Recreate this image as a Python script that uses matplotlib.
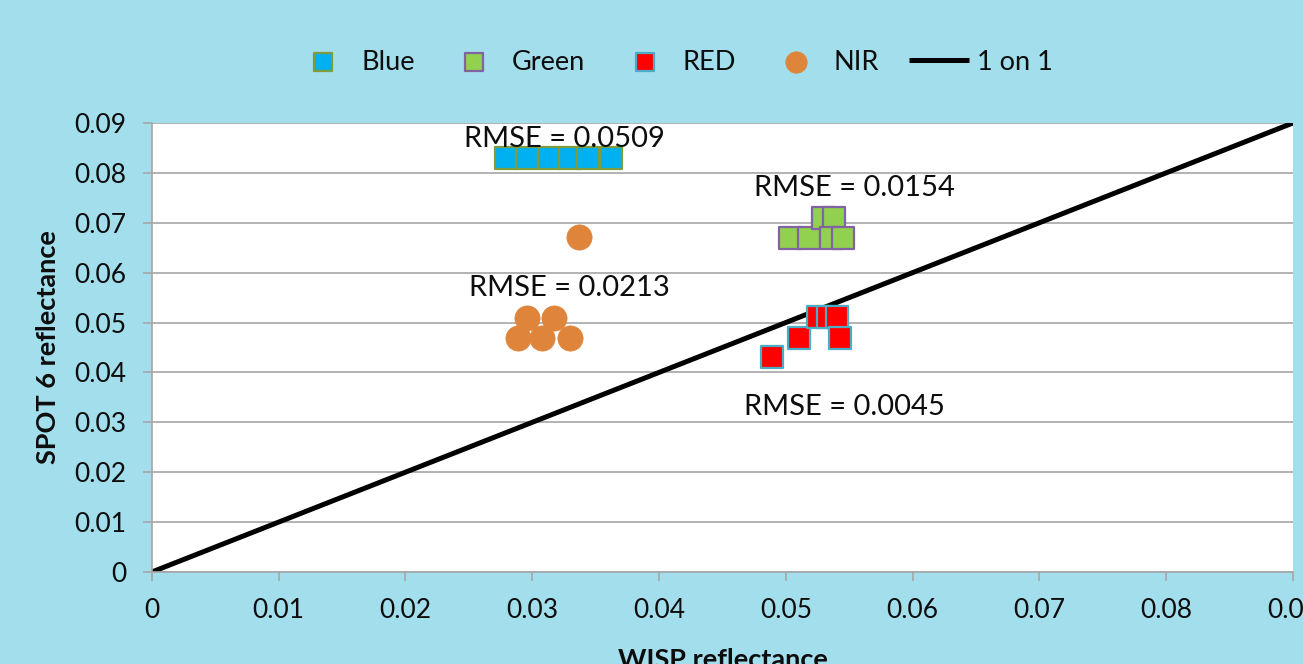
import numpy as np
import matplotlib.pyplot as plt

plt.rcParams['font.family'] = ['Lato', 'DejaVu Sans']

# data
blue_x = [0.0279, 0.0296, 0.0313, 0.0330, 0.0344, 0.0362]
blue_y = [0.083, 0.083, 0.083, 0.083, 0.083, 0.083]

green_x = [0.0503, 0.0518, 0.0529, 0.0538, 0.0536, 0.0545]
green_y = [0.067, 0.067, 0.071, 0.071, 0.067, 0.067]

red_x = [0.0489, 0.0510, 0.0525, 0.0533, 0.0540, 0.0543]
red_y = [0.0431, 0.0468, 0.0511, 0.0511, 0.0511, 0.0468]

nir_x = [0.0337, 0.0296, 0.0317, 0.0289, 0.0308, 0.0330]
nir_y = [0.0672, 0.0509, 0.0509, 0.0468, 0.0468, 0.0468]

one_x = [0, 0.09]
one_y = [0, 0.09]

notes = ['RMSE = 0.0509', 'RMSE = 0.0154', 'RMSE = 0.0213', 'RMSE = 0.0045']
note_x = [0.0325, 0.0554, 0.0329, 0.0546]
note_y = [0.0873, 0.0774, 0.0575, 0.0336]

xticks = np.arange(0, 0.091, 0.01)
yticks = np.arange(0, 0.091, 0.01)

bg = '#A3DEEC'
grid_c = '#A6A6A6'
txt_c = '#0d0d0d'

fig = plt.figure(figsize=(13.03, 6.64), dpi=100, facecolor=bg)
ax = fig.add_axes([0.1166, 0.1386, 0.8757, 0.6762])
ax.set_facecolor('white')

ax.plot(one_x, one_y, color='black', lw=3.6, zorder=2, label='1 on 1', solid_capstyle='butt')
ax.scatter(blue_x, blue_y, marker='s', s=250, c='#00B0F0', edgecolors='#7E9C3C', linewidths=1.6, zorder=3, label='Blue')
ax.scatter(green_x, green_y, marker='s', s=250, c='#92D050', edgecolors='#8064A2', linewidths=1.6, zorder=3, label='Green')
ax.scatter(red_x, red_y, marker='s', s=250, c='#FF0000', edgecolors='#4BACC6', linewidths=1.6, zorder=3, label='RED')
ax.scatter(nir_x, nir_y, marker='o', s=330, c='#DF843B', edgecolors='#DF843B', linewidths=0.5, zorder=3, label='NIR')

for t, x, y in zip(notes, note_x, note_y):
    ax.text(x, y, t, ha='center', va='center_baseline', fontsize=21, color=txt_c, zorder=4)

ax.set_xlim(0, 0.09)
ax.set_ylim(0, 0.09)
ax.set_xticks(xticks)
ax.set_yticks(yticks)
ax.set_xticklabels(['0' if v == 0 else f'{v:.2f}' for v in xticks])
ax.set_yticklabels(['0' if v == 0 else f'{v:.2f}' for v in yticks])
ax.tick_params(axis='both', direction='out', length=6.5, width=1.2, color=grid_c,
               labelsize=19, labelcolor=txt_c, pad=12)
ax.grid(axis='y', color=grid_c, lw=1.2, zorder=0)
ax.set_axisbelow(True)
for s in ['top', 'right']:
    ax.spines[s].set_visible(False)
for s in ['left', 'bottom']:
    ax.spines[s].set_color(grid_c)
    ax.spines[s].set_linewidth(1.2)

ax.set_xlabel('WISP reflectance', fontsize=19.5, fontweight='bold', labelpad=18, color=txt_c)
ax.set_ylabel('SPOT 6 reflectance', fontsize=19.5, fontweight='bold', labelpad=10, color=txt_c)

h, l = ax.get_legend_handles_labels()
order = [1, 2, 3, 4, 0]
leg = fig.legend([h[i] for i in order], [l[i] for i in order], loc='center',
                 bbox_to_anchor=(0.5165, 0.9066), ncol=5, frameon=False, fontsize=19.5,
                 markerscale=0.85, handlelength=2.2, columnspacing=1.1, handletextpad=0.3,
                 labelcolor=txt_c)

fig.savefig('out.png', dpi=100, facecolor=bg)
